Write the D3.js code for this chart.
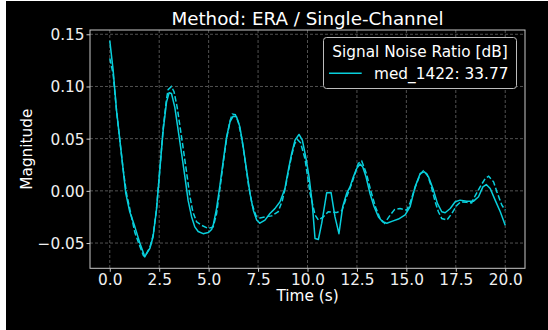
<!DOCTYPE html>
<html>
<head>
<meta charset="utf-8">
<script src="https://cdn.jsdelivr.net/npm/d3@7"></script>
<style>
  html, body { margin: 0; padding: 0; background: #ffffff; }
  svg { display: block; }
  text { font-family: "DejaVu Sans", sans-serif; }
</style>
</head>
<body>
<script>
// ---- Data ----
const solidTime = [0, 0.17, 0.34, 0.51, 0.68, 0.81, 1.01, 1.27, 1.52, 1.77, 2.03, 2.19, 2.36, 2.53, 2.70, 2.87, 3.00, 3.12, 3.29, 3.46, 3.63, 3.80, 3.96, 4.14, 4.30, 4.47, 4.72, 4.98, 5.15, 5.23, 5.40, 5.57, 5.74, 5.91, 6.08, 6.24, 6.41, 6.58, 6.75, 6.92, 7.09, 7.26, 7.43, 7.59, 7.85, 8.10, 8.35, 8.61, 8.86, 9.03, 9.20, 9.37, 9.57, 9.74, 9.91, 10.08, 10.24, 10.38, 10.55, 10.72, 10.97, 11.19, 11.39, 11.59, 11.78, 11.98, 12.15, 12.32, 12.49, 12.66, 12.79, 12.96, 13.16, 13.37, 13.59, 13.80, 14.01, 14.30, 14.60, 14.94, 15.19, 15.44, 15.70, 15.91, 16.12, 16.37, 16.57, 16.79, 16.96, 17.22, 17.47, 17.72, 18.06, 18.40, 18.65, 18.87, 19.04, 19.24, 19.49, 19.75, 20.0];
const solidValues = [0.144, 0.1156, 0.0773, 0.0486, 0.0198, -0.0025, -0.020, -0.0345, -0.050, -0.063, -0.055, -0.044, -0.0185, 0.0198, 0.058, 0.085, 0.094, 0.0933, 0.080, 0.058, 0.0358, 0.0134, -0.0089, -0.025, -0.0345, -0.039, -0.041, -0.040, -0.037, -0.033, -0.017, 0.005, 0.029, 0.052, 0.066, 0.0715, 0.0709, 0.0613, 0.042, 0.0198, -0.0025, -0.0185, -0.028, -0.031, -0.028, -0.0217, -0.017, -0.0105, 0.0023, 0.0198, 0.0358, 0.0486, 0.054, 0.0486, 0.0326, 0.0134, -0.012, -0.0456, -0.0466, -0.031, -0.0019, -0.0015, -0.025, -0.041, -0.0153, -0.0025, 0.0038, 0.0134, 0.0215, 0.0256, 0.023, 0.0134, -0.0025, -0.0153, -0.025, -0.0297, -0.031, -0.029, -0.027, -0.023, -0.015, 0.0038, 0.0167, 0.0182, 0.0134, 0.0007, -0.012, -0.020, -0.021, -0.0169, -0.0105, -0.0089, -0.0099, -0.0099, -0.0057, 0.0038, 0.006, 0.0023, -0.0089, -0.020, -0.0329];

const dashedTime = [0, 0.17, 0.34, 0.51, 0.68, 0.85, 1.10, 1.27, 1.52, 1.70, 1.77, 2.03, 2.19, 2.36, 2.53, 2.70, 2.87, 2.95, 3.12, 3.25, 3.41, 3.58, 3.75, 3.92, 4.05, 4.20, 4.39, 4.64, 4.98, 5.23, 5.40, 5.57, 5.74, 5.91, 6.08, 6.20, 6.35, 6.50, 6.68, 6.85, 7.02, 7.20, 7.40, 7.60, 7.85, 8.19, 8.52, 8.73, 8.90, 9.05, 9.20, 9.35, 9.50, 9.65, 9.87, 10.13, 10.38, 10.55, 10.80, 11.05, 11.48, 11.74, 11.98, 12.24, 12.57, 12.74, 12.99, 13.20, 13.45, 13.67, 13.90, 14.18, 14.40, 14.68, 15.02, 15.20, 15.44, 15.70, 15.86, 16.05, 16.25, 16.45, 16.62, 16.79, 17.05, 17.30, 17.56, 17.75, 18.06, 18.30, 18.50, 18.73, 18.99, 19.16, 19.41, 19.58, 19.83, 20.0];
const dashedValues = [0.127, 0.112, 0.077, 0.048, 0.020, -0.003, -0.025, -0.040, -0.053, -0.062, -0.063, -0.054, -0.043, -0.018, 0.020, 0.060, 0.088, 0.097, 0.100, 0.095, 0.080, 0.058, 0.036, 0.013, -0.005, -0.020, -0.0297, -0.033, -0.036, -0.0345, -0.022, 0.002, 0.027, 0.050, 0.067, 0.0735, 0.073, 0.066, 0.050, 0.028, 0.005, -0.013, -0.024, -0.026, -0.025, -0.024, -0.020, -0.009, 0.005, 0.020, 0.034, 0.045, 0.049, 0.046, 0.031, -0.0025, -0.023, -0.028, -0.025, -0.020, -0.0207, -0.019, -0.0057, 0.007, 0.0262, 0.0287, 0.016, 0.000, -0.016, -0.0265, -0.031, -0.0233, -0.018, -0.017, -0.0185, -0.011, 0.003, 0.016, 0.0192, 0.016, 0.005, -0.010, -0.020, -0.0265, -0.028, -0.0217, -0.0137, -0.0105, -0.011, -0.0115, -0.004, 0.0038, 0.0119, 0.014, 0.0086, -0.001, -0.0137, -0.0185];

const xTicks = [0, 2.5, 5, 7.5, 10, 12.5, 15, 17.5, 20];
const xTickLabels = ["0.0", "2.5", "5.0", "7.5", "10.0", "12.5", "15.0", "17.5", "20.0"];
const yTicks = [-0.05, 0, 0.05, 0.10, 0.15];
const yTickLabels = ["\u22120.05", "0.00", "0.05", "0.10", "0.15"];

const titleText = "Method: ERA / Single-Channel";
const xLabelText = "Time (s)";
const yLabelText = "Magnitude";
const legendTitle = "Signal Noise Ratio [dB]";
const legendLabel = "med_1422: 33.77";

// ---- Layout ----
const W = 548, H = 330;
const plot = { left: 90, right: 525, top: 30, bottom: 268.3 };
const lineColor = "#08cfdc";
const fg = "#ffffff";
const spineColor = "#c8c8c8";

const svg = d3.select("body").append("svg").attr("width", W).attr("height", H);

// figure background (white strip on left/top as in reference)
svg.append("rect").attr("x", 0).attr("y", 0).attr("width", W).attr("height", H).attr("fill", "#ffffff");
svg.append("rect").attr("x", 6).attr("y", 1).attr("width", W - 6).attr("height", H - 1).attr("fill", "#000000");

const x = d3.scaleLinear().domain([-1.0, 21.0]).range([plot.left, plot.right]);
const y = d3.scaleLinear().domain([-0.0742, 0.1541]).range([plot.bottom, plot.top]);

// grid
const grid = svg.append("g");
grid.selectAll("line.vg").data(xTicks).enter().append("line")
  .attr("x1", d => x(d)).attr("x2", d => x(d))
  .attr("y1", plot.top).attr("y2", plot.bottom)
  .attr("stroke", "#5a5a5a").attr("stroke-width", 0.9).attr("stroke-dasharray", "3,2");
grid.selectAll("line.hg").data(yTicks).enter().append("line")
  .attr("y1", d => y(d)).attr("y2", d => y(d))
  .attr("x1", plot.left).attr("x2", plot.right)
  .attr("stroke", "#5a5a5a").attr("stroke-width", 0.9).attr("stroke-dasharray", "3,2");

// lines
const clip = svg.append("clipPath").attr("id", "clip").append("rect")
  .attr("x", plot.left).attr("y", plot.top)
  .attr("width", plot.right - plot.left).attr("height", plot.bottom - plot.top);

const line = d3.line().x(d => x(d[0])).y(d => y(d[1]));
const solidData = solidTime.map((t, i) => [t, solidValues[i]]);
const dashedData = dashedTime.map((t, i) => [t, dashedValues[i]]);

svg.append("path").datum(dashedData).attr("d", line)
  .attr("fill", "none").attr("stroke", lineColor).attr("stroke-width", 1.5)
  .attr("stroke-dasharray", "5.5,2.4").attr("clip-path", "url(#clip)");
svg.append("path").datum(solidData).attr("d", line)
  .attr("fill", "none").attr("stroke", lineColor).attr("stroke-width", 1.5)
  .attr("stroke-linejoin", "round").attr("clip-path", "url(#clip)");

// axes
const xAxis = d3.axisBottom(x).tickValues(xTicks).tickFormat((d, i) => xTickLabels[i])
  .tickSizeInner(3.5).tickSizeOuter(0).tickPadding(3);
const yAxis = d3.axisLeft(y).tickValues(yTicks).tickFormat((d, i) => yTickLabels[i])
  .tickSizeInner(3.5).tickSizeOuter(0).tickPadding(3);

const gx = svg.append("g").attr("transform", `translate(0,${plot.bottom})`).call(xAxis);
const gy = svg.append("g").attr("transform", `translate(${plot.left},0)`).call(yAxis);
[gx, gy].forEach(g => {
  g.select(".domain").remove();
  g.selectAll(".tick line").attr("stroke", spineColor).attr("stroke-width", 1);
  g.selectAll(".tick text").attr("fill", "#f0f0f0")
    .style("font-family", "DejaVu Sans").style("font-size", "15.3px");
});
gx.selectAll(".tick text").attr("dy", "0.71em").attr("y", 6);
gy.selectAll(".tick text").attr("x", -5.5).attr("dy", "0.35em");

// spines
svg.append("rect").attr("x", plot.left).attr("y", plot.top)
  .attr("width", plot.right - plot.left).attr("height", plot.bottom - plot.top)
  .attr("fill", "none").attr("stroke", spineColor).attr("stroke-width", 1);

// title and labels
svg.append("text").attr("x", (plot.left + plot.right) / 2).attr("y", 25)
  .attr("text-anchor", "middle").attr("fill", fg).style("font-size", "18.3px").text(titleText);
svg.append("text").attr("x", (plot.left + plot.right) / 2).attr("y", 301)
  .attr("text-anchor", "middle").attr("fill", fg).style("font-size", "15.3px").text(xLabelText);
svg.append("text").attr("transform", `translate(31.5,${(plot.top + plot.bottom) / 2}) rotate(-90)`)
  .attr("text-anchor", "middle").attr("fill", fg).style("font-size", "15.3px").text(yLabelText);

// legend
const lg = svg.append("g");
lg.append("rect").attr("x", 323.5).attr("y", 37.5).attr("width", 193).attr("height", 51)
  .attr("rx", 3).attr("fill", "#000000").attr("stroke", "#bdbdbd").attr("stroke-width", 1);
lg.append("text").attr("x", 420).attr("y", 56.7).attr("text-anchor", "middle")
  .attr("fill", fg).style("font-size", "15.3px").text(legendTitle);
lg.append("line").attr("x1", 329).attr("x2", 361.7).attr("y1", 73.3).attr("y2", 73.3)
  .attr("stroke", lineColor).attr("stroke-width", 1.5);
lg.append("text").attr("x", 374).attr("y", 78.7)
  .attr("fill", fg).style("font-size", "15.3px").text(legendLabel);
</script>
</body>
</html>
